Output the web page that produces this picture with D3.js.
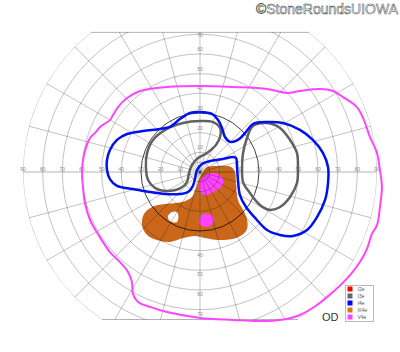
<!DOCTYPE html>
<html>
<head>
<meta charset="utf-8">
<script src="https://cdn.jsdelivr.net/npm/d3@7"></script>
<style>
  body { margin: 0; background: #fff; }
  text { font-family: "Liberation Sans", Arial, sans-serif; }
</style>
</head>
<body>
<svg id="chart" width="400" height="352"></svg>
<script>
// Goldmann visual field, right eye (OD). Points are [horizontal deg, vertical deg]
var ringDeg = [5, 10, 20, 30, 40, 50, 60, 70, 80, 90];
var axisLabels = [10, 20, 30, 40, 50, 60, 70, 80, 90];
var vertLabels = [10, 20, 30, 40, 50, 60, 70];
var fieldTop = 71, fieldBottom = -75;   // chart is cut flat above and below

var v4e = [[0,43.7],[16.8,43.2],[34.1,42.2],[44.2,40.2],[50.8,41.2],[61.0,42.2],[67.6,41.2],[72.7,38.1],
  [79.8,33.0],[82.9,27.5],[86.4,17.8],[90.0,9.7],[91.5,1.0],[92.5,-7.6],[91.5,-17.8],[90.0,-27.0],
  [87.4,-31.5],[84.9,-39.1],[81.3,-45.8],[76.3,-52.4],[67.6,-61.0],[59.5,-67.6],[50.8,-72.7],[44.2,-74.7],
  [30.5,-75.8],[16.8,-75.2],[0,-74.2],[-16.8,-71.2],[-25.4,-68.6],[-31.5,-66.1],[-34.1,-62.0],[-34.6,-55.9],
  [-36.6,-50.8],[-40.7,-45.8],[-45.8,-40.7],[-51.9,-31.5],[-55.9,-24.4],[-58.5,-15.8],[-59.5,-7.6],
  [-60.0,0],[-59.0,8.6],[-55.9,17.3],[-53.4,19.8],[-50.8,22.9],[-45.8,26.4],[-44.2,29.0],[-41.7,33.0],
  [-37.1,37.6],[-30.5,41.2],[-16.8,43.2]];

var i4e = [[0,30.5],[6.1,29.5],[9.2,26.4],[11.2,22.4],[12.7,17.8],[15.3,15.3],[19.3,16.3],[22.9,19.8],
  [26.9,24.4],[34.1,25.4],[42.2,24.9],[50.8,21.4],[57.4,16.3],[62.5,9.7],[65.1,2.5],[65.1,-5.6],
  [63.6,-14.2],[59.5,-22.9],[54.4,-29.5],[47.3,-32.5],[40.7,-32.0],[34.1,-29.5],[28.5,-23.9],[23.4,-17.8],
  [20.3,-11.7],[19.3,-4.1],[18.8,2.5],[18.3,7.1],[16.8,7.6],[11.7,6.6],[5.1,5.6],[1.0,4.1],[-1.5,1.0],
  [-2.5,-3.1],[-3.6,-7.1],[-6.1,-10.2],[-10.2,-11.2],[-17.8,-11.2],[-25.4,-10.2],[-34.1,-8.6],
  [-42.2,-7.1],[-45.8,-3.6],[-47.3,1.0],[-47.3,6.1],[-45.8,11.2],[-42.2,16.3],[-37.1,19.3],[-29.0,20.8],
  [-20.3,21.9],[-15.3,22.9],[-10.2,26.9],[-5.1,30.0]];

var i3eNasal = [[0,25.9],[6.6,25.4],[10.2,22.4],[10.2,17.8],[8.1,13.7],[3.6,9.7],[-1.0,7.1],[-4.1,3.6],
  [-5.6,-0.5],[-6.6,-5.1],[-9.7,-8.1],[-16.8,-9.7],[-22.9,-8.1],[-26.4,-4.1],[-27.5,2.5],[-26.9,9.7],
  [-23.9,16.3],[-16.8,21.9],[-8.6,24.9]];

var i3eTemporal = [[26.9,23.4],[34.1,24.9],[40.7,22.4],[45.8,16.3],[49.3,9.7],[49.8,2.5],[49.3,-5.6],
  [45.8,-12.7],[40.7,-17.8],[35.6,-19.3],[30.5,-16.8],[25.4,-10.7],[21.9,-5.1],[21.4,2.5],[21.9,9.7],
  [23.9,17.3]];

var iii4eScotoma = [[2.0,0.5],[3.6,2.5],[9.2,3.1],[15.8,2.5],[17.8,0],[18.3,-6.6],[19.3,-14.2],
  [21.9,-19.3],[23.9,-23.9],[23.9,-29.0],[21.4,-32.0],[16.3,-34.1],[9.2,-34.6],[2.5,-33.6],[-2.5,-32.5],
  [-8.6,-33.6],[-15.3,-35.6],[-21.9,-34.6],[-26.9,-32.0],[-29.5,-26.9],[-28.5,-21.4],[-24.4,-17.8],
  [-17.8,-16.3],[-9.2,-15.3],[-4.1,-12.7],[-2.0,-8.1],[-0.5,-3.6]];
var iii4eIsland = [[-16.3,-22.4],[-14.2,-20.3],[-11.7,-20.3],[-11.0,-22.9],[-11.7,-25.4],[-13.7,-25.6],[-15.8,-24.4]];

var v4eScotomaUpper = [[-0.5,-5.6],[1.5,-2.5],[5.1,-0.5],[9.2,-1.0],[11.7,-3.6],[11.2,-7.1],[7.6,-9.7],[3.1,-11.7],[0,-10.2]];
var v4eScotomaLower = [[0,-23.4],[1.5,-21.4],[5.1,-21.4],[7.1,-23.4],[6.6,-25.9],[4.1,-27.9],[1.0,-27.5],[-0.5,-25.4]];

var legendNames = ["I2e", "I3e", "I4e", "III4e", "V4e"];
var legendColors = ["#ff0000", "#666666", "#0000ff", "#d07a22", "#ff44ff"];

var svg = d3.select("#chart");
var cx = 200, cy = 172, rMax = 177;

var r = d3.scaleLinear().domain([0, 90]).range([0, rMax]);
var x = d3.scaleLinear().domain([-90, 90]).range([cx - rMax, cx + rMax]);
var y = d3.scaleLinear().domain([-90, 90]).range([cy + rMax, cy - rMax]);

var curve = d3.line().x(function(d){ return x(d[0]); }).y(function(d){ return y(d[1]); })
  .curve(d3.curveCatmullRomClosed.alpha(0.5));

// clip: 90 deg circle cut by top/bottom lines
var defs = svg.append("defs");
defs.append("clipPath").attr("id", "clipCircle")
  .append("circle").attr("cx", cx).attr("cy", cy).attr("r", r(90));
defs.append("clipPath").attr("id", "clipBand")
  .append("rect").attr("x", 0).attr("y", y(fieldTop)).attr("width", 400).attr("height", y(fieldBottom) - y(fieldTop));

// filled scotomas first, grid goes over them
var fills = svg.append("g");
fills.append("path").datum(iii4eScotoma).attr("d", curve).attr("fill", "#c9661a");
fills.append("path").datum(iii4eIsland).attr("d", curve).attr("fill", "#fff");
fills.append("path").datum(v4eScotomaUpper).attr("d", curve).attr("fill", "#ff44ff");
fills.append("path").datum(v4eScotomaLower).attr("d", curve).attr("fill", "#ff44ff");

var grid = svg.append("g").attr("clip-path", "url(#clipBand)")
  .append("g").attr("clip-path", "url(#clipCircle)");

grid.selectAll("circle.ring").data(ringDeg).enter().append("circle")
  .attr("class", "ring")
  .attr("cx", cx).attr("cy", cy)
  .attr("r", function(d){ return r(d); })
  .attr("fill", "none")
  .attr("stroke", function(d){ return d == 30 ? "rgba(0,0,0,0.75)" : "rgba(0,0,0,0.3)"; })
  .attr("stroke-width", function(d){ return d == 30 ? 1 : 0.8; });

grid.selectAll("line.meridian").data(d3.range(0, 360, 15)).enter().append("line")
  .attr("class", "meridian")
  .attr("x1", cx).attr("y1", cy)
  .attr("x2", function(a){ return cx + r(95) * Math.cos(a * Math.PI / 180); })
  .attr("y2", function(a){ return cy - r(95) * Math.sin(a * Math.PI / 180); })
  .attr("stroke", "rgba(0,0,0,0.3)")
  .attr("stroke-width", function(a){ return a % 180 == 0 ? 1 : 0.8; });

// flat top and bottom edges
[fieldTop, fieldBottom].forEach(function(v){
  var half = Math.sqrt(r(90) * r(90) - r(Math.abs(v)) * r(Math.abs(v)));
  svg.append("line")
    .attr("x1", cx - half).attr("x2", cx + half)
    .attr("y1", y(v)).attr("y2", y(v))
    .attr("stroke", "rgba(0,0,0,0.3)").attr("stroke-width", 1);
});

// degree labels
var labels = svg.append("g").attr("font-size", 5).attr("fill", "#888").attr("text-anchor", "middle");
axisLabels.forEach(function(d){
  labels.append("text").attr("x", x(-d)).attr("y", cy - 1.5).text(d);
  labels.append("text").attr("x", x(d)).attr("y", cy - 1.5).text(d);
});
vertLabels.forEach(function(d){
  var ty = y(d) - 3;
  if (ty < y(fieldTop) + 3) ty = y(d) + 2.5;
  labels.append("text").attr("x", cx).attr("y", ty).text(d);
  labels.append("text").attr("x", cx).attr("y", y(-d) + 6).text(d);
});

// isopter lines
var iso = svg.append("g").attr("fill", "none").attr("stroke-linejoin", "round");
iso.append("path").datum(i3eNasal).attr("d", curve).attr("stroke", "#616161").attr("stroke-width", 2.5);
iso.append("path").datum(i3eTemporal).attr("d", curve).attr("stroke", "#616161").attr("stroke-width", 2.5);
iso.append("path").datum(i4e).attr("d", curve).attr("stroke", "#0011ee").attr("stroke-width", 2.5);
iso.append("path").datum(v4e).attr("d", curve).attr("stroke", "#ff44ff").attr("stroke-width", 2);

// legend
var leg = svg.append("g");
leg.append("rect").attr("x", 345.5).attr("y", 285.5).attr("width", 28).attr("height", 36)
  .attr("fill", "#fff").attr("stroke", "#bbb").attr("stroke-width", 1);
legendNames.forEach(function(n, i){
  leg.append("rect").attr("x", 347.5).attr("y", 286.5 + i * 7).attr("width", 5).attr("height", 5)
    .attr("fill", legendColors[i]);
  leg.append("text").attr("x", 357.5).attr("y", 290.8 + i * 7).attr("font-size", 5)
    .attr("fill", "#555").text(n);
});

svg.append("text").attr("x", 322).attr("y", 321).attr("font-size", 11).attr("fill", "#333").text("OD");

svg.append("text").attr("x", 398).attr("y", 13.5).attr("text-anchor", "end")
  .attr("font-size", 14).attr("fill", "#fff").attr("stroke", "#444").attr("stroke-width", 0.5)
  .text("\u00a9StoneRoundsUIOWA");
</script>
</body>
</html>
